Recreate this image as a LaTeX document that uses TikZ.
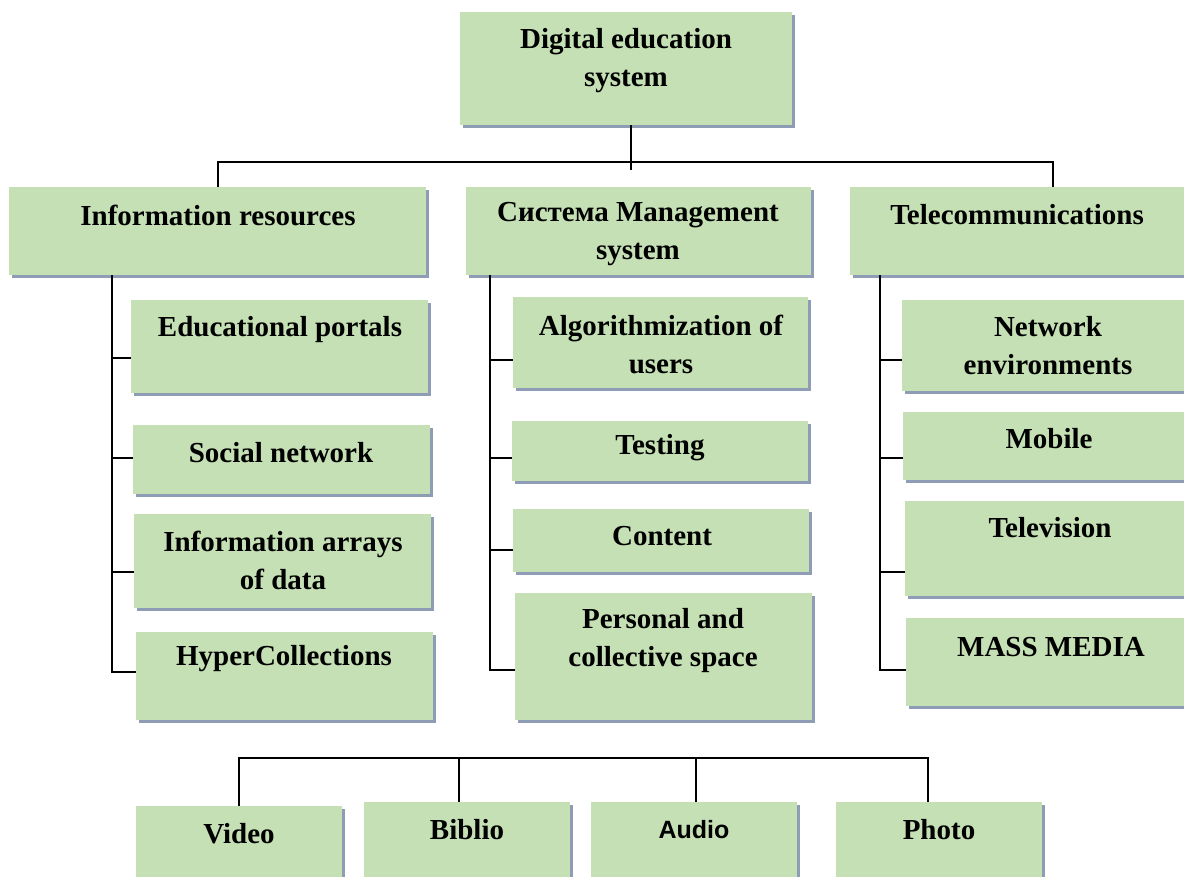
\documentclass[tikz,border=0pt]{standalone}
\usepackage{fontspec}
\setmainfont{Liberation Serif}
\newfontfamily\arialfont{Liberation Sans}
\usetikzlibrary{shadows}
\definecolor{boxgreen}{HTML}{C5E0B4}
\definecolor{shadowblue}{HTML}{8E9CB5}

\begin{document}
\begin{tikzpicture}[x=1pt, y=-1pt,
        box/.style={rectangle, fill=boxgreen, inner sep=0pt, drop shadow={shadow xshift=3pt, shadow yshift=-3pt, fill=shadowblue, opacity=1}},
        txt/.style={font=\fontsize{29}{38}\selectfont\bfseries, align=center, inner sep=0pt},
        line/.style={draw=black, line width=2pt}]
        \useasboundingbox (0,0) rectangle (1184,876);

        % top
        \node[box, minimum width=332, minimum height=113] (root) at (626,68.5) {};
        \node[txt] (root-t) at (626,61) {Digital education\\system};

        % first level
        \node[box, minimum width=417, minimum height=88] (info) at (217.5,231) {};
        \node[txt] (info-t) at (218,215) {Information resources};
        \node[box, minimum width=345, minimum height=88] (mgmt) at (638.5,231) {};
        \node[txt] (mgmt-t) at (638,234) {Система Management\\system};
        \node[box, minimum width=406, minimum height=88] (tele) at (1053,231) {};
        \node[txt] (tele-t) at (1017,215) {Telecommunications};

        % information resources
        \node[box, minimum width=297, minimum height=93] (edu) at (279.5,346.5) {};
        \node[txt] (edu-t) at (280,330) {Educational portals};
        \node[box, minimum width=297, minimum height=69] (social) at (281.5,459.5) {};
        \node[txt] (social-t) at (281,453) {Social network};
        \node[box, minimum width=297, minimum height=94] (arrays) at (282.5,561) {};
        \node[txt] (arrays-t) at (283,560) {Information arrays\\of data};
        \node[box, minimum width=297, minimum height=88] (hyper) at (284.5,676) {};
        \node[txt] (hyper-t) at (284,659) {HyperCollections};

        % management system
        \node[box, minimum width=295, minimum height=91] (algo) at (660.5,342.5) {};
        \node[txt] (algo-t) at (661,344.5) {Algorithmization of\\users};
        \node[box, minimum width=296, minimum height=60] (testing) at (660,451) {};
        \node[txt] (testing-t) at (660,448) {Testing};
        \node[box, minimum width=296, minimum height=63] (content) at (661,540.5) {};
        \node[txt] (content-t) at (662,536) {Content};
        \node[box, minimum width=297, minimum height=127] (personal) at (663.5,656.5) {};
        \node[txt] (personal-t) at (663,640.5) {Personal and\\collective space};

        % telecommunications
        \node[box, minimum width=300, minimum height=91] (network) at (1052,345.5) {};
        \node[txt] (network-t) at (1048,345.5) {Network\\environments};
        \node[box, minimum width=300, minimum height=68] (mobile) at (1053,446) {};
        \node[txt] (mobile-t) at (1049,439) {Mobile};
        \node[box, minimum width=300, minimum height=95] (tv) at (1055,548.5) {};
        \node[txt] (tv-t) at (1050,528) {Television};
        \node[box, minimum width=300, minimum height=88] (media) at (1056,662) {};
        \node[txt] (media-t) at (1051,647) {MASS MEDIA};

        % bottom row
        \node[box, minimum width=206, minimum height=80] (video) at (239,846) {};
        \node[txt] (video-t) at (239,834) {Video};
        \node[box, minimum width=206, minimum height=80] (biblio) at (467,842) {};
        \node[txt] (biblio-t) at (467,830) {Biblio};
        \node[box, minimum width=206, minimum height=80] (audio) at (694,842) {};
        \node[txt, font=\arialfont\fontsize{25}{30}\selectfont\bfseries] (audio-t) at (694,830) {Audio};
        \node[box, minimum width=206, minimum height=80] (photo) at (939,842) {};
        \node[txt] (photo-t) at (939,830) {Photo};

        % connectors
        \coordinate (bus) at (0,162);
        \draw[line] ([xshift=5]root.south) -- ++(0,45);
        \draw[line] (info.north) -- (info.north |- bus) -- (tele.north |- bus) -- (tele.north);

        \coordinate (lx) at (112,275);
        \foreach \n/\s in {edu/-11.5, social/1.5, arrays/-11, hyper/4}
            \draw[line] (lx) |- ([yshift=\s]\n.west);
        \coordinate (mx) at (490,275);
        \foreach \n/\s in {algo/-17.5, testing/-7, content/-9.5, personal/-13.5}
            \draw[line] (mx) |- ([yshift=\s]\n.west);
        \coordinate (rx) at (880,275);
        \foreach \n/\s in {network/-14.5, mobile/-12, tv/-23.5, media/-8}
            \draw[line] (rx) |- ([yshift=\s]\n.west);

        \coordinate (bbus) at (0,758);
        \coordinate (bi) at ([xshift=-8]biblio.north);
        \coordinate (au) at ([xshift=2]audio.north);
        \coordinate (ph) at ([xshift=-11]photo.north);
        \draw[line] (video.north) -- (video.north |- bbus) -- (ph |- bbus) -- (ph);
        \draw[line] (bi) -- (bi |- bbus);
        \draw[line] (au) -- (au |- bbus);
\end{tikzpicture}
\end{document}
